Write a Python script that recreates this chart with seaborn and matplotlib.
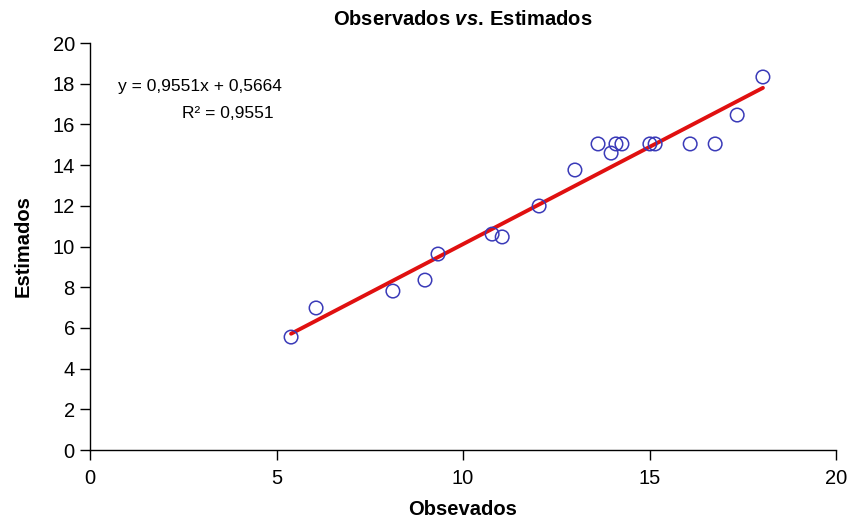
import matplotlib
matplotlib.use("Agg")
import matplotlib.pyplot as plt
import seaborn as sns
import pandas as pd
import numpy as np

# Observed vs. estimated values
observados = [5.39, 6.06, 8.12, 8.98, 9.33, 10.78, 11.05, 12.04, 13.00, 13.62,
              13.97, 14.10, 14.26, 15.01, 15.15, 16.09, 16.76, 17.35, 18.04]
estimados = [5.55, 6.98, 7.81, 8.35, 9.63, 10.61, 10.47, 11.99, 13.76, 15.04,
             14.59, 15.04, 15.04, 15.04, 15.04, 15.04, 15.04, 16.46, 18.33]

# Linear trend line coefficients
slope = 0.9551
intercept = 0.5664
r2 = 0.9551

x_ticks = [0, 5, 10, 15, 20]
y_ticks = [0, 2, 4, 6, 8, 10, 12, 14, 16, 18, 20]

sns.set_theme(style="white")
plt.rcParams["font.family"] = ["Liberation Sans", "DejaVu Sans"]
plt.rcParams["text.color"] = "black"
plt.rcParams["axes.labelcolor"] = "black"
plt.rcParams["mathtext.fontset"] = "custom"
plt.rcParams["mathtext.it"] = "Liberation Sans:bold:italic"
plt.rcParams["mathtext.rm"] = "Liberation Sans:bold"
plt.rcParams["mathtext.bf"] = "Liberation Sans:bold"

df = pd.DataFrame({"Observados": observados, "Estimados": estimados})
xs = np.array([min(observados), max(observados)])
trend = pd.DataFrame({"x": xs, "y": slope * xs + intercept})

fig = plt.figure(figsize=(8.51, 5.29), dpi=100)
ax = fig.add_axes([0.1058, 0.1493, 0.8766, 0.7694])

sns.lineplot(data=trend, x="x", y="y", ax=ax, color="#e01010", linewidth=2.8, zorder=2)
sns.scatterplot(data=df, x="Observados", y="Estimados", ax=ax, marker="o",
                s=95, facecolors="none", edgecolor="#3a3ab8", linewidth=1.1, zorder=3)

ax.set_xlim(0, 20)
ax.set_ylim(0, 20)
ax.set_xticks(x_ticks)
ax.set_yticks(y_ticks)
ax.tick_params(axis="both", direction="out", length=7, width=1, colors="black",
               labelsize=14.5, pad=4, bottom=True, left=True)
ax.tick_params(axis="x", pad=7)
for side in ["top", "right"]:
    ax.spines[side].set_visible(False)
for side in ["left", "bottom"]:
    ax.spines[side].set_color("black")
    ax.spines[side].set_linewidth(1)

ax.set_xlabel("Obsevados", fontsize=14.5, fontweight="bold", labelpad=8, color="black")
ax.set_ylabel("Estimados", fontsize=14.5, fontweight="bold", labelpad=14, color="black")

fig.text(0.544, 0.964, r"Observados $\mathit{vs.}\,$Estimados", ha="center", va="center",
         fontsize=14.5, fontweight="bold", color="black")

ax.text(200 / 851, 1 - 87 / 529, "y = 0,9551x + 0,5664", transform=fig.transFigure,
        ha="center", va="center", fontsize=12.5, color="black")
ax.text(228 / 851, 1 - 113 / 529, "R² = 0,9551", transform=fig.transFigure,
        ha="center", va="center", fontsize=12.5, color="black")

fig.savefig("out.png", dpi=100)
